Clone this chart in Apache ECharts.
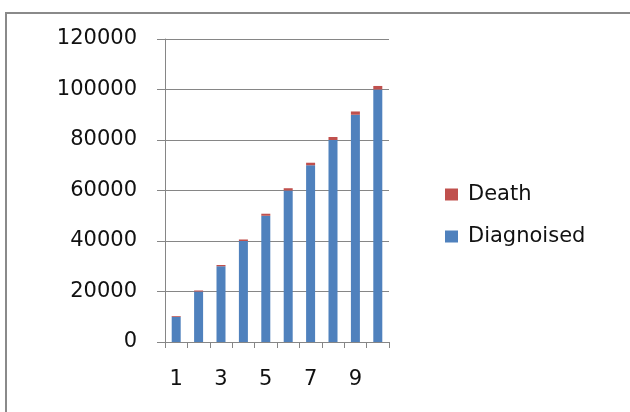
<!DOCTYPE html>
<html>
<head>
<meta charset="utf-8">
<script src="https://cdn.jsdelivr.net/npm/echarts@6/dist/echarts.min.js"></script>
<style>
html,body{margin:0;padding:0;background:#fff;}
#chart{width:630px;height:412px;}
</style>
</head>
<body>
<div id="chart"></div>
<script>
const categories = ['1','2','3','4','5','6','7','8','9','10'];
const diagnoised = [10000, 20000, 30000, 40000, 50000, 60000, 70000, 80000, 90000, 100000];
const death = [300, 400, 500, 600, 800, 900, 1000, 1200, 1300, 1400];
const yTicks = [0, 20000, 40000, 60000, 80000, 100000, 120000];

const chart = echarts.init(document.getElementById('chart'), null, {renderer: 'canvas'});
const font = 'DejaVu Sans';
const axisGray = '#868686';
chart.setOption({
  animation: false,
  backgroundColor: '#ffffff',
  graphic: [{
    type: 'rect',
    shape: {x: 6, y: 13, width: 700, height: 500},
    style: {fill: 'none', stroke: '#8a8a8a', lineWidth: 2},
    silent: true
  }],
  grid: {left: 165, right: 241, top: 39, bottom: 70},
  legend: {
    orient: 'vertical',
    left: 440,
    top: 179,
    icon: 'rect',
    itemWidth: 13,
    itemHeight: 12,
    itemGap: 21,
    selectedMode: false,
    data: ['Death', 'Diagnoised'],
    textStyle: {fontFamily: font, fontSize: 21, color: '#111', padding: [0, 0, 0, 5]}
  },
  xAxis: {
    type: 'category',
    data: categories,
    boundaryGap: true,
    axisLine: {lineStyle: {color: axisGray, width: 1}},
    axisTick: {show: true, interval: 0, length: 6, lineStyle: {color: axisGray}},
    axisLabel: {interval: 1, margin: 27, fontFamily: font, fontSize: 21, color: '#111'}
  },
  yAxis: {
    type: 'value',
    min: yTicks[0],
    max: yTicks[yTicks.length - 1],
    interval: yTicks[1] - yTicks[0],
    axisLine: {show: true, lineStyle: {color: axisGray, width: 1}},
    axisTick: {show: true, length: 8, lineStyle: {color: axisGray}},
    splitLine: {show: true, lineStyle: {color: axisGray, width: 1}},
    axisLabel: {margin: 28, fontFamily: font, fontSize: 21, color: '#111',
      formatter: function (v) { return String(v); }}
  },
  series: [
    {name: 'Diagnoised', type: 'bar', stack: 'total', barWidth: 9, data: diagnoised,
     itemStyle: {color: '#4F81BD'}},
    {name: 'Death', type: 'bar', stack: 'total', barWidth: 9, data: death,
     itemStyle: {color: '#C0504D'}}
  ]
});
</script>
</body>
</html>
